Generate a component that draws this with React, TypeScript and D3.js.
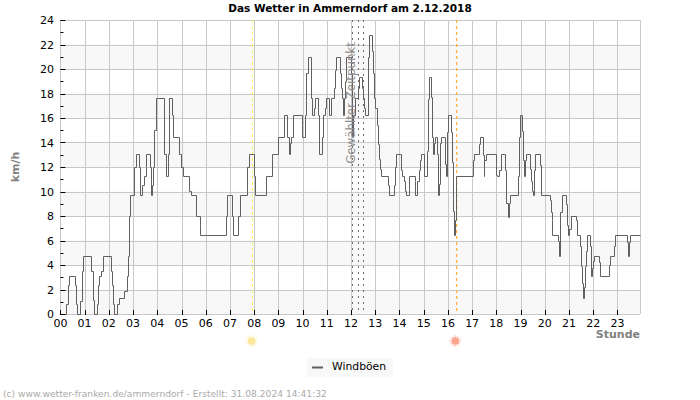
import React from 'react';
import * as d3 from 'd3';

// Wind gusts: [step, km/h], 24.22 steps per hour, value holds until next entry
const gustSteps: [number, number][] = [
  [0, 0], [5, 0.8], [7, 2.3], [8, 3.1], [14, 2.3], [15, 0.8], [16, 0], [19, 1], [21, 3.5], [22, 4.7],
  [30, 3.5], [32, 1.1], [33, 0], [36, 0.8], [37, 2.3], [38, 3.1], [40, 3.5], [42, 4.7], [50, 3.5], [51, 2.3],
  [52, 0.8], [53, 0], [56, 0.8], [58, 1.3], [64, 1.8], [66, 3.1], [67, 4.7], [68, 8], [69, 9.7], [73, 12],
  [75, 13], [79, 12], [80, 9.7], [82, 10.5], [83, 11.2], [85, 12], [86, 13], [89, 12], [90, 9.7], [91, 10.5],
  [92, 12], [93, 15], [95, 16.2], [96, 17.6], [103, 13], [105, 11.2], [107, 13], [108, 17.6], [111, 16.2], [112, 14.4],
  [118, 13], [121, 12], [122, 11.2], [129, 10], [130, 9.7], [136, 8], [139, 7.2], [140, 6.4], [166, 8], [167, 9.7],
  [171, 8], [173, 6.4], [178, 8], [179, 9.7], [187, 12], [188, 13], [193, 11.2], [194, 9.7], [205, 11.2], [211, 13],
  [217, 14.4], [223, 16.2], [226, 14.4], [228, 13], [229, 13.9], [231, 14.4], [233, 16.2], [241, 15.4], [242, 14.4], [244, 16.2],
  [245, 17.4], [246, 19.6], [247, 20.9], [250, 17.6], [251, 16.2], [253, 16.8], [254, 17.6], [257, 16.2], [258, 13], [261, 14.4],
  [262, 16.2], [264, 16.8], [265, 17.6], [268, 16.2], [270, 17.6], [273, 18.4], [274, 19.9], [275, 20.9], [279, 19.6], [280, 18.4],
  [281, 17.6], [282, 16.2], [283, 17.6], [284, 19], [285, 20.9], [290, 19.6], [291, 14.4], [292, 16.2], [294, 17.6], [297, 18.4],
  [298, 19.3], [301, 18.4], [302, 17.6], [303, 16.8], [304, 16.2], [307, 20.9], [308, 22.7], [311, 21.4], [312, 19.6], [313, 17.6],
  [315, 16.8], [316, 15.4], [317, 13.8], [318, 12.6], [319, 11.8], [320, 11.2], [327, 10.5], [328, 9.7], [333, 10.5], [334, 12],
  [335, 13], [340, 11.7], [341, 11.2], [343, 10.8], [344, 10], [345, 9.7], [348, 10.2], [349, 11.2], [354, 10.8], [355, 9.7],
  [356, 10.8], [358, 11.7], [359, 12.5], [360, 13], [364, 11.2], [366, 13.3], [367, 17.5], [368, 19.3], [370, 17.7], [371, 14.4],
  [372, 13], [373, 13.9], [374, 14.4], [376, 13], [377, 9.7], [378, 10.6], [379, 12], [380, 13.9], [381, 14.4], [384, 12.2],
  [385, 11.2], [386, 14.8], [387, 16.2], [390, 14.8], [391, 12.4], [392, 8.4], [393, 6.4], [394, 7.6], [395, 11.2], [412, 12.5],
  [413, 13], [418, 13.8], [419, 14.4], [422, 12.9], [423, 11.2], [424, 12.5], [425, 13], [435, 12.2], [436, 11.3], [437, 11.2],
  [439, 11.7], [440, 13], [445, 11.7], [446, 9], [447, 7.9], [448, 9], [449, 9.7], [457, 11.2], [458, 14.4], [459, 16.2],
  [461, 14.9], [462, 12.5], [463, 11.2], [464, 12.5], [465, 13], [469, 11.8], [470, 10.8], [471, 10], [472, 9.7], [473, 11.7],
  [474, 13], [479, 12.1], [480, 9.7], [489, 9.3], [490, 8.3], [491, 7.6], [492, 6.4], [497, 5.9], [498, 4.7], [499, 8.3],
  [501, 9.7], [505, 8.9], [506, 7.2], [507, 6.4], [508, 6.9], [510, 8], [515, 7.6], [516, 6.4], [519, 5.5], [520, 3.9],
  [521, 2.5], [522, 1.3], [523, 2.2], [524, 3.9], [525, 5.1], [526, 6.4], [529, 5.5], [530, 3.1], [531, 3.7], [532, 4.3],
  [533, 4.7], [538, 4.2], [539, 3.1], [548, 4], [549, 4.7], [554, 5.5], [555, 6.4], [566, 5.8], [567, 4.7], [568, 5.8],
  [569, 6.4], [579, 6.4],
];

const hourLabels = d3.range(24);
const yMajor = d3.range(0, 25, 2);
const yMinor = d3.range(1, 24, 2);
const bands = [0, 4, 8, 12, 16, 20]; // lower edge of each shaded 2 km/h band

const sunrise = 7.95;
const sunset = 16.36;
const selected = [12.05, 12.27, 12.49];

const title = 'Das Wetter in Ammerndorf am 2.12.2018';
const footer = '(c) www.wetter-franken.de/ammerndorf - Erstellt: 31.08.2024 14:41:32';

const width = 700;
const height = 400;
const left = 60.4;
const right = 640;
const top = 20;
const bottom = 314;

// the day runs a little past the right edge of the plot
const x = d3.scaleLinear().domain([0, 24]).range([left, left + 24 * 24.22]);
const y = d3.scaleLinear().domain([0, 24]).range([bottom, top]);

// snap to the pixel grid so the thin lines stay sharp
const snap = (v: number) => Math.round(v) + 0.5;

const gustLine = d3.line<[number, number]>()
  .x(d => snap(x((d[0] + 0.6) / 24.22) - 0.5))
  .y(d => snap(y(d[1]) - 0.5))
  .curve(d3.curveStepAfter);

const Sun = ({ cx, cy, color, ray }: { cx: number; cy: number; color: string; ray: string }) => (
  <g>
    {d3.range(12).map(i => {
      const a = (i * Math.PI) / 6;
      return (
        <line key={i} x1={cx + Math.cos(a) * 3} y1={cy + Math.sin(a) * 3}
          x2={cx + Math.cos(a) * 6.2} y2={cy + Math.sin(a) * 6.2} stroke={ray} strokeWidth={1} />
      );
    })}
    <circle cx={cx} cy={cy} r={3.8} fill={color} />
  </g>
);

export default function App() {
  return (
    <svg width={width} height={height} style={{ position: 'absolute', left: 0, top: 0 }}
      fontFamily="'DejaVu Sans', sans-serif">
      <rect width={width} height={height} fill="#fff" />

      {bands.map(b => (
        <rect key={b} x={left} width={right - left} y={y(b + 2)} height={y(b) - y(b + 2)} fill="#f8f8f8" />
      ))}

      {yMajor.map(v => (
        <line key={v} x1={left} x2={right} y1={snap(y(v))} y2={snap(y(v))} stroke="#c8c8c8" />
      ))}
      {hourLabels.map(h => (
        <line key={h} x1={snap(x(h))} x2={snap(x(h))} y1={top} y2={bottom} stroke="#c8c8c8" />
      ))}
      <line x1={right + 0.5} x2={right + 0.5} y1={top} y2={bottom} stroke="#c8c8c8" />

      <line x1={snap(x(sunrise) - 1)} x2={snap(x(sunrise) - 1)} y1={top} y2={bottom} stroke="#f8f060" strokeDasharray="3 3" />
      <line x1={x(sunset)} x2={x(sunset)} y1={top} y2={bottom} stroke="#ffb030" strokeWidth={1.2} strokeDasharray="3 3" />
      {selected.map(s => (
        <line key={s} x1={snap(x(s))} x2={snap(x(s))} y1={top} y2={bottom} stroke="#707070" strokeDasharray="2 4" />
      ))}

      <path d={gustLine(gustSteps) ?? ''} fill="none" stroke="#606060" strokeWidth={1} />

      <text transform="translate(354.5,103) rotate(-90)" textAnchor="middle" fontSize={11.8} fill="#909090">Gewählter Zeitpunkt</text>

      {yMajor.map(v => (
        <g key={v}>
          <line x1={left} x2={left + 5} y1={snap(y(v))} y2={snap(y(v))} stroke="#000" />
          <text x={54} y={y(v) + 4} textAnchor="end" fontSize={11} fill="#000">{v}</text>
        </g>
      ))}
      {yMinor.map(v => (
        <line key={v} x1={left} x2={left + 3} y1={snap(y(v))} y2={snap(y(v))} stroke="#000" />
      ))}
      {hourLabels.map(h => (
        <g key={h}>
          <line x1={snap(x(h))} x2={snap(x(h))} y1={bottom - 4} y2={bottom + 1} stroke="#000" />
          <text x={x(h)} y={327} textAnchor="middle" fontSize={11} fill="#000">{String(h).padStart(2, '0')}</text>
        </g>
      ))}

      <text x={350} y={12} textAnchor="middle" fontSize={10.5} fontWeight="bold" fill="#000">{title}</text>
      <text transform="translate(19,167) rotate(-90)" textAnchor="middle" fontSize={11} fontWeight="bold" fill="#808080">km/h</text>
      <text x={640} y={338} textAnchor="end" fontSize={11} fontWeight="bold" fill="#808080">Stunde</text>

      <Sun cx={x(sunrise) - 1.3} cy={341} color="#fde79a" ray="#fdf0bc" />
      <Sun cx={x(sunset) - 1.3} cy={341} color="#fca58f" ray="#fcc8ba" />

      <rect x={307} y={358} width={86} height={19} fill="#f8f8f8" />
      <line x1={312} x2={323} y1={367.5} y2={367.5} stroke="#606060" strokeWidth={2} />
      <text x={332} y={370} fontSize={10.8} fill="#000">Windböen</text>

      <text x={3} y={397} fontSize={9.15} fill="#aaaaaa">{footer}</text>
    </svg>
  );
}
